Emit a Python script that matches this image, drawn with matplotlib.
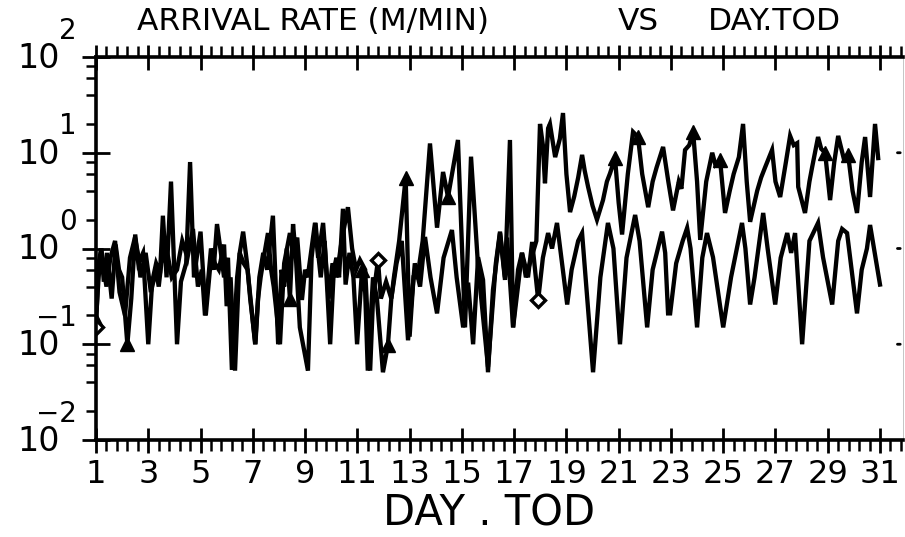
import numpy as np
import matplotlib
matplotlib.use("Agg")
import matplotlib.pyplot as plt
from matplotlib.ticker import FixedLocator, NullFormatter, FixedFormatter

# ---------------- data ----------------
days_a = [1.0, 1.1, 1.2, 1.3, 1.42, 1.6, 1.75, 1.88, 2.0, 2.2, 2.35, 2.5, 2.62, 2.8, 3.0,
          3.15, 3.3, 3.45, 3.56, 3.7, 3.87, 4.1, 4.25, 4.45, 4.6, 4.75, 4.88, 5.0, 5.2,
          5.4, 5.5, 5.63, 5.78, 5.9, 6.05, 6.2, 6.4, 6.5, 6.63, 6.78, 6.9, 7.1, 7.25,
          7.4, 7.55, 7.77, 7.97, 8.1, 8.2, 8.3, 8.42, 8.54, 8.65, 8.8, 9.11, 9.25, 9.4,
          9.5, 9.6, 9.75, 9.96, 10.1, 10.2, 10.3, 10.45, 10.55, 10.7, 10.85, 10.99,
          11.18, 11.3, 11.4, 11.6, 11.75, 11.98, 12.17, 12.3, 12.4, 12.6, 12.85, 13.0,
          13.15, 13.3, 13.5, 13.78, 14.05, 14.28, 14.47, 14.85, 15.12, 15.35, 15.62,
          16.0, 16.3, 16.46, 16.65, 16.84, 16.96, 17.15, 17.3, 17.45, 17.6, 17.85,
          17.99, 18.1, 18.18, 18.3, 18.37, 18.5, 18.57, 18.75, 18.87, 19.0, 19.14, 19.3,
          19.45, 19.6, 19.7, 19.83, 20.0, 20.17, 20.4, 20.55, 20.67, 20.86, 21.0, 21.13,
          21.35, 21.55, 21.74, 21.9, 22.13, 22.3, 22.45, 22.7, 22.9, 23.08, 23.3, 23.4,
          23.54, 23.7, 23.85, 24.0, 24.12, 24.35, 24.58, 24.7, 24.88, 25.07, 25.25,
          25.4, 25.6, 25.76, 25.9, 26.03, 26.3, 26.45, 26.6, 26.87, 27.0, 27.18, 27.4,
          27.56, 27.7, 27.83, 27.87, 28.13, 28.3, 28.4, 28.63, 28.75, 28.9, 29.09,
          29.25, 29.4, 29.6, 29.78, 29.95, 30.12, 30.3, 30.43, 30.62, 30.81, 30.93]
rate_a = [0.18, 0.5, 1.0, 0.45, 0.9, 0.3, 1.1, 0.6, 0.5, 0.1, 0.3, 1.4, 0.7, 0.9, 0.1,
          0.45, 0.7, 0.55, 2.2, 0.5, 5.0, 0.1, 0.45, 0.7, 8.0, 0.5, 0.9, 1.5, 0.2,
          0.8, 0.6, 1.8, 0.9, 0.5, 0.8, 0.054, 0.5, 0.9, 1.5, 0.7, 0.3, 0.1, 0.5,
          0.9, 0.6, 2.2, 0.1, 0.6, 0.4, 1.0, 0.3, 1.8, 0.8, 0.15, 0.053, 0.8, 1.85,
          0.9, 0.5, 1.2, 0.1, 0.6, 0.8, 0.5, 2.6, 0.42, 0.9, 0.5, 0.1,
          0.6, 0.35, 0.053, 0.5, 0.3, 0.051, 0.098, 0.3, 0.5, 1.2, 5.5, 0.12,
          0.5, 0.5, 1.2, 12.5, 1.65, 6.3, 3.45, 13.6, 0.15, 9.1, 0.65,
          0.058, 0.7, 1.5, 0.5, 13.6, 0.15, 0.6, 0.9, 0.5, 0.7, 1.2,
          20.0, 12.0, 4.8, 18.0, 20.0, 12.0, 9.0, 14.0, 26.0, 6.0, 2.4, 3.5,
          5.5, 9.5, 6.5, 4.4, 2.8, 2.0, 3.2, 5.0, 6.1, 8.8, 3.0, 1.4,
          6.0, 16.5, 14.6, 6.0, 2.7, 5.0, 7.0, 11.5, 5.0, 2.5, 5.0, 4.2,
          10.7, 12.0, 16.4, 5.0, 1.23, 5.0, 10.0, 7.5, 8.4, 2.35, 4.0,
          6.0, 9.0, 20.0, 5.0, 1.9, 4.0, 5.5, 7.0, 10.7, 5.0, 3.45, 8.0,
          15.0, 12.0, 12.6, 4.4, 2.35, 5.0, 7.0, 14.6, 11.0, 10.0, 3.2,
          8.0, 15.0, 9.0, 9.5, 4.0, 2.35, 8.0, 14.6, 3.45, 20.0, 8.8]

days_b = [1.0, 1.1, 1.2, 1.3, 1.4, 1.55, 1.73, 1.9, 2.11, 2.3, 2.49, 2.6, 2.7, 2.9, 3.1,
          3.3, 3.4, 3.5, 3.7, 3.8, 3.9, 4.1, 4.3, 4.5, 4.71, 4.9, 5.05, 5.17, 5.4, 5.55,
          5.7, 5.9, 6.0, 6.15, 6.32, 6.5, 6.65, 6.8, 7.09, 7.2, 7.3, 7.45, 7.58, 7.7,
          7.8, 8.04, 8.2, 8.42, 8.55, 8.7, 8.88, 9.0, 9.1, 9.25, 9.38, 9.5, 9.69, 9.9,
          10.05, 10.2, 10.4, 10.64, 10.8, 10.95, 11.1, 11.3, 11.49, 11.6, 11.79, 11.9,
          12.1, 12.3, 12.5, 12.7, 12.94, 13.2, 13.4, 13.59, 13.8, 14.05, 14.3, 14.62,
          14.8, 15.05, 15.24, 15.43, 15.62, 15.81, 16.0, 16.19, 16.46, 16.65, 16.73,
          16.96, 17.3, 17.53, 17.69, 17.92, 18.1, 18.3, 18.45, 18.64, 19.03, 19.2,
          19.45, 19.6, 20.02, 20.3, 20.59, 20.8, 21.05, 21.3, 21.63, 21.8, 22.09, 22.3,
          22.66, 22.78, 22.89, 22.97, 23.2, 23.45, 23.62, 23.75, 24.0, 24.2, 24.38,
          24.61, 25.0, 25.3, 25.72, 25.85, 26.03, 26.2, 26.53, 26.7, 26.99, 27.2,
          27.45, 27.6, 27.75, 28.02, 28.3, 28.63, 28.82, 29.17, 29.4, 29.55, 29.74,
          30.12, 30.3, 30.5, 30.62, 31.0]
rate_b = [0.15, 0.7, 1.0, 0.6, 0.4, 0.8, 1.2, 0.35, 0.2, 0.8, 1.3, 0.9, 0.5, 0.9, 0.35,
          0.6, 0.4, 0.7, 1.0, 0.7, 0.5, 0.6, 1.2, 0.8, 1.6, 0.4, 0.6, 0.2, 1.0, 0.7,
          0.6, 1.1, 0.25, 0.5, 0.053, 0.9, 0.7, 0.6, 0.1, 0.3, 0.5, 0.9, 1.45, 0.6,
          0.4, 0.1, 0.7, 1.45, 0.9, 1.3, 0.29, 0.6, 0.5, 1.0, 1.85, 0.8, 1.85, 0.3,
          0.7, 0.5, 1.2, 2.7, 1.0, 0.6, 0.76, 0.6, 0.053, 0.3, 0.76, 0.3,
          0.45, 0.3, 0.7, 1.2, 0.11, 0.7, 0.4, 1.32, 0.5, 0.21, 0.8, 1.56,
          0.5, 0.15, 0.44, 0.1, 0.81, 0.47, 0.051, 0.37, 1.45, 0.47, 1.3,
          0.15, 0.9, 0.5, 1.17, 0.29, 0.8, 1.45, 1.0, 1.85, 0.26, 0.6,
          1.2, 1.45, 0.051, 0.5, 1.85, 1.0, 0.1, 0.8, 2.24, 1.2, 0.15, 0.6,
          1.5, 0.9, 0.21, 0.21, 0.7, 1.2, 1.64, 1.0, 0.15, 0.8, 1.45,
          0.81, 0.15, 0.5, 1.85, 1.0, 0.26, 0.5, 2.35, 1.0, 0.26, 0.8,
          1.45, 0.9, 1.45, 0.1, 1.2, 1.85, 0.81, 0.26, 1.2, 1.6, 1.45,
          0.21, 0.6, 1.0, 1.76, 0.42]

tri_days = [1.0, 2.2, 8.42, 11.18, 12.17, 12.85, 14.47, 20.86, 21.74, 23.85, 24.88, 28.9, 29.78]
dia_days = [1.0, 11.79, 17.92]

x_tick_labels = [str(d) for d in range(1, 32, 2)]
y_exponents = [-2, -1, 0, 1, 2]

# ---------------- figure ----------------
W, H = 905, 537
fig = plt.figure(figsize=(W / 100, H / 100), dpi=100)
ax = fig.add_axes([96 / W, 1 - 440 / H, 807 / W, 383 / H])

def nearest_idx(xs, targets):
    xs = np.asarray(xs)
    return [int(np.argmin(np.abs(xs - t))) for t in targets]

ax.plot(days_a, rate_a, color='black', lw=3.1, solid_joinstyle='miter',
        marker='^', markersize=10, markerfacecolor='black', markeredgecolor='black',
        markevery=nearest_idx(days_a, tri_days))
ax.plot(days_b, rate_b, color='black', lw=3.1, solid_joinstyle='miter',
        marker='D', markersize=7.5, markerfacecolor='white', markeredgecolor='black',
        markeredgewidth=2.4, markevery=nearest_idx(days_b, dia_days))

ax.set_yscale('log')
ax.set_ylim(1e-2, 1e2)
ax.set_xlim(1.0, 31.88)

# spines
for s in ['left', 'top', 'bottom']:
    ax.spines[s].set_linewidth(2.6)
ax.spines['right'].set_linewidth(0.6)
ax.spines['right'].set_color('#bbbbbb')

# x ticks
ax.xaxis.set_major_locator(FixedLocator(list(range(1, 32, 2))))
ax.xaxis.set_major_formatter(FixedFormatter(x_tick_labels))
ax.xaxis.set_minor_locator(FixedLocator(list(np.arange(1.0, 31.9, 0.4))))
ax.tick_params(axis='x', which='major', direction='inout', length=18, width=2,
               top=True, bottom=True, labelsize=23, pad=5)
ax.tick_params(axis='x', which='minor', direction='out', length=8, width=1.8,
               top=True, bottom=True)

# y ticks
majors = [10.0 ** e for e in y_exponents]
minors = [m * 10.0 ** e for e in y_exponents[:-1] for m in (2, 4, 6, 8)]
ax.yaxis.set_major_locator(FixedLocator(majors))
ax.yaxis.set_minor_locator(FixedLocator(minors))
ax.yaxis.set_major_formatter(NullFormatter())
ax.yaxis.set_minor_formatter(NullFormatter())
ax.tick_params(axis='y', which='major', direction='inout', length=20, width=2,
               left=True, right=False)
ax.tick_params(axis='y', which='minor', direction='out', length=7, width=1.8,
               left=True, right=False)
# right-side short ticks at inner decades
for e in y_exponents[1:-1]:
    ax.annotate('', xy=(1.0, 10.0 ** e), xycoords=('axes fraction', 'data'),
                xytext=(-6, 0), textcoords='offset points',
                arrowprops=dict(arrowstyle='-', lw=2, color='black'))

# y labels: "10" with raised exponent
for e in y_exponents:
    ax.annotate('10', xy=(0, 10.0 ** e), xycoords=('axes fraction', 'data'),
                xytext=(-26, -1), textcoords='offset points',
                ha='right', va='center', fontsize=24, annotation_clip=False)
    txt = str(e) if e >= 0 else '\u2212' + str(-e)
    ax.annotate(txt, xy=(0, 10.0 ** e), xycoords=('axes fraction', 'data'),
                xytext=(-14, 19), textcoords='offset points',
                ha='right', va='center', fontsize=20, annotation_clip=False)

# title pieces and axis label
fig.text(137 / W, 1 - 21 / H, 'ARRIVAL RATE (M/MIN)', ha='left', va='center', fontsize=22.5)
fig.text(618 / W, 1 - 21 / H, 'VS', ha='left', va='center', fontsize=22.5)
fig.text(708 / W, 1 - 21 / H, 'DAY.TOD', ha='left', va='center', fontsize=22.5)
fig.text(489 / W, 1 - 514 / H, 'DAY . TOD', ha='center', va='center', fontsize=30)

fig.savefig('out.png', dpi=100)
